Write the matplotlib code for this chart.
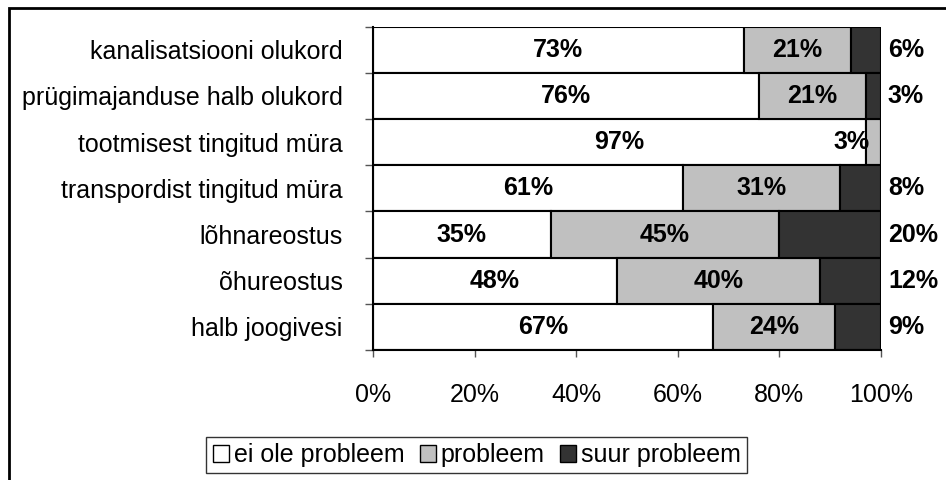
import matplotlib.pyplot as plt
import numpy as np
from matplotlib.patches import Rectangle

plt.rcParams['font.family'] = ['Liberation Sans', 'DejaVu Sans']

kategooriad = ['kanalisatsiooni olukord', 'prügimajanduse halb olukord',
               'tootmisest tingitud müra', 'transpordist tingitud müra',
               'lõhnareostus', 'õhureostus', 'halb joogivesi']
ei_ole = np.array([73, 76, 97, 61, 35, 48, 67])
probleem = np.array([21, 21, 3, 31, 45, 40, 24])
suur = np.array([6, 3, 0, 8, 20, 12, 9])
seeriad = ['ei ole probleem', 'probleem', 'suur probleem']

cores = ['white', '#c0c0c0', '#333333']

fig = plt.figure(figsize=(9.46, 4.8), dpi=100)
ax = fig.add_axes([0.3943, 0.2708, 0.537, 0.6736])

y = np.arange(len(kategooriad))
osad = [ei_ole / 100, probleem / 100, suur / 100]
vasak = np.zeros(len(kategooriad))
for osa, cor, nimi in zip(osad, cores, seeriad):
    ax.barh(y, osa, left=vasak, height=1.0, color=cor, edgecolor='black',
            linewidth=1.5, label=nimi)
    vasak = vasak + osa

# protsendid valge ja halli lõigu keskele
for i in range(len(kategooriad)):
    for j, väärtus in enumerate([ei_ole[i], probleem[i]]):
        if väärtus == 0:
            continue
        algus = sum(osad[k][i] for k in range(j))
        if väärtus < 5:
            # kitsas lõik: silt lõigu vasakule servale
            ax.annotate(f'{väärtus}%', xy=(algus, y[i]), xytext=(3, 0),
                        textcoords='offset points', ha='right', va='center',
                        fontsize=18, fontweight='bold')
        else:
            ax.text(algus + väärtus / 200, y[i], f'{väärtus}%', ha='center',
                    va='center', fontsize=18, fontweight='bold')
    # suure probleemi protsent riba lõppu
    if suur[i] > 0:
        ax.annotate(f'{suur[i]}%', xy=(vasak[i], y[i]), xytext=(5, 0),
                    textcoords='offset points', ha='left', va='center',
                    fontsize=18, fontweight='bold', annotation_clip=False)

ax.set_xlim(0, 1)
ax.set_ylim(len(kategooriad) - 0.5, -0.5)
ax.set_xticks(np.linspace(0, 1, 6))
ax.set_xticklabels([f'{int(v)}%' for v in np.linspace(0, 100, 6)], fontsize=18)
ax.set_yticks(y)
ax.set_yticklabels(kategooriad, fontsize=18)
ax.set_yticks(np.arange(-0.5, len(kategooriad)), minor=True)
ax.tick_params(axis='y', which='major', length=0, pad=22)
ax.tick_params(axis='y', which='minor', length=6, width=1, color='#555555')
ax.tick_params(axis='x', length=5, width=1, color='#555555', pad=19)

for lado in ['top', 'right']:
    ax.spines[lado].set_visible(False)
ax.spines['left'].set_linewidth(1.5)
ax.spines['bottom'].set_linewidth(1.5)

leg = fig.legend(loc='center', bbox_to_anchor=(0.504, 0.052), ncol=3,
                 fontsize=18, frameon=True, fancybox=False, edgecolor='black',
                 handlelength=0.65, handleheight=0.65, handletextpad=0.2,
                 columnspacing=0.6, borderpad=0.25)
leg.get_frame().set_linewidth(1.0)
for h in leg.legend_handles:
    h.set_linewidth(1.0)

# raam ümber joonise
fig.patches.append(Rectangle((9 / 946, -0.1), 2, 1.1 - 8 / 480, fill=False,
                             edgecolor='black', linewidth=2,
                             transform=fig.transFigure, clip_on=False))

plt.savefig('out.png', dpi=100)
